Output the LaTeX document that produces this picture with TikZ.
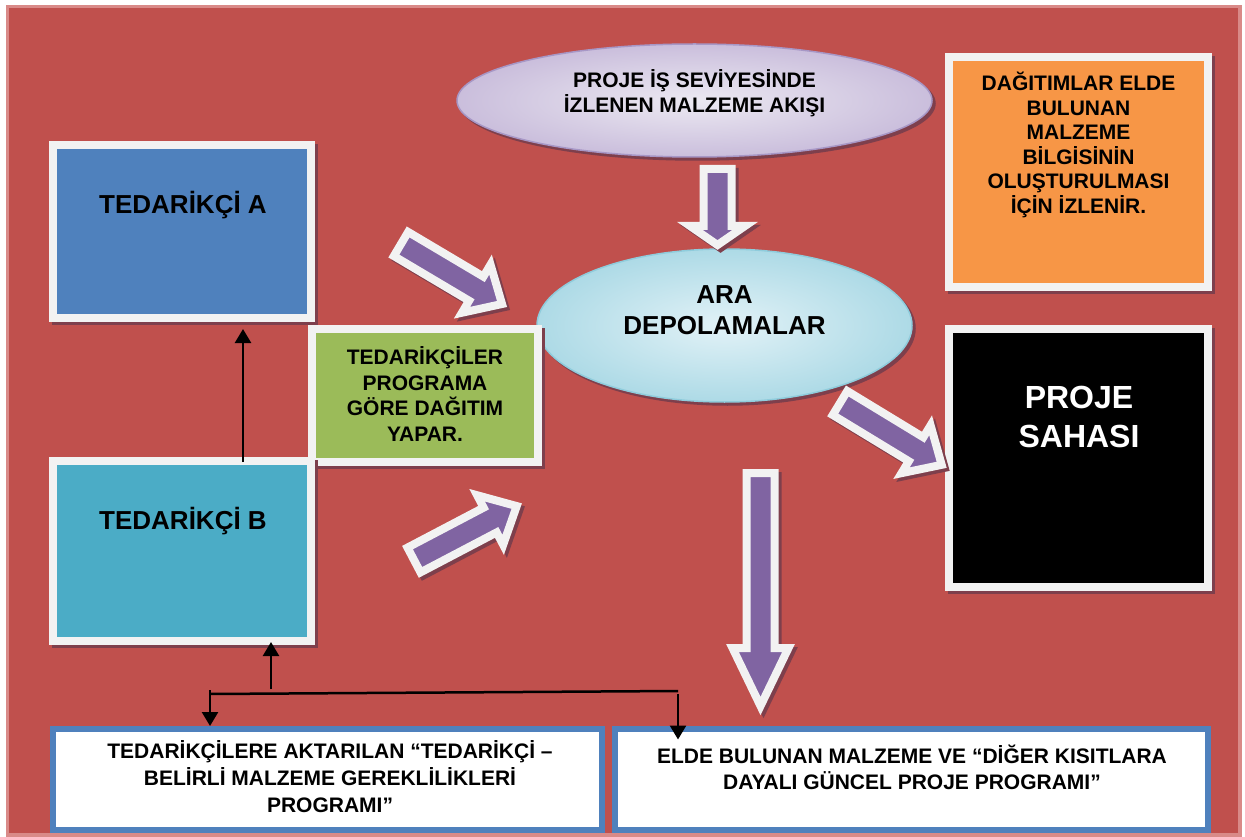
\documentclass[tikz,border=0pt]{standalone}
\usepackage{fontspec}
\setmainfont{Liberation Sans}
\usetikzlibrary{arrows.meta,shapes.geometric,positioning}

\definecolor{bgred}{HTML}{C0504D}
\definecolor{framepink}{HTML}{D98A88}
\definecolor{offwhite}{HTML}{F2F2F2}
\definecolor{shadowc}{HTML}{7E3F4C}
\definecolor{boxblue}{HTML}{4F81BD}
\definecolor{boxteal}{HTML}{4BACC6}
\definecolor{boxgreen}{HTML}{9BBB59}
\definecolor{boxorange}{HTML}{F79646}
\definecolor{arrpurple}{HTML}{8064A2}
\definecolor{lavlight}{HTML}{ECE9F2}
\definecolor{lavdark}{HTML}{CABEDC}
\definecolor{lavline}{HTML}{A797C6}
\definecolor{aqualight}{HTML}{E2F2F7}
\definecolor{aquadark}{HTML}{ADDAE6}
\definecolor{aqualine}{HTML}{8FCCDC}

\tikzset{
  shadowed/.style={preaction={draw=shadowc, fill=shadowc, line width=#1, transform canvas={xshift=3pt, yshift=-3pt}}},
  wbox/.style={draw=offwhite, line width=8pt, inner sep=0pt, shadowed=8pt},
  bluebox/.style={draw=boxblue, line width=6pt, fill=white, inner sep=0pt},
  oval/.style={ellipse, line width=1.5pt, inner sep=0pt, shadowed=1.5pt},
  txt/.style={font=\fontsize{21}{25.5}\selectfont\bfseries, align=center, inner sep=0pt},
  bigtxt/.style={font=\fontsize{26}{31}\selectfont\bfseries, align=center, inner sep=0pt},
  conn/.style={line width=2.5pt, -{Triangle[width=16pt,length=14pt]}},
  arrbody/.style={fill=arrpurple, draw=offwhite, line width=8pt, line join=miter},
  arrshadow/.style={fill=shadowc, draw=shadowc, line width=8pt, line join=miter}
}

% block arrow: tail x, tail y, angle, length, head length, head half width
\newcommand{\purplearrow}[6]{%
  \draw[arrshadow, shift={(#1+3,#2+3)}, rotate=#3] (0,-14) -- ({#4-#5},-14) -- ({#4-#5},-#6) -- (#4,0) -- ({#4-#5},#6) -- ({#4-#5},14) -- (0,14) -- cycle;
  \draw[arrbody, shift={(#1,#2)}, rotate=#3] (0,-14) -- ({#4-#5},-14) -- ({#4-#5},-#6) -- (#4,0) -- ({#4-#5},#6) -- ({#4-#5},14) -- (0,14) -- cycle;
}

\begin{document}
\begin{tikzpicture}[x=1pt, y=-1pt]
	\useasboundingbox (0,0) rectangle (1245,837);
	\fill[white] (0,0) rectangle (1245,837);
	\fill[framepink] (6,5) rectangle (1242,837);
	\fill[bgred] (9,8) rectangle (1238,833);

	% suppliers and storage
	\node[wbox, fill=boxblue, minimum width=258pt, minimum height=173pt] (tedA) at (182,231.5) {};
	\node[bigtxt] (tedAtext) at (183,205) {TEDARİKÇİ A};
	\node[oval, draw=lavline, shading=radial, inner color=lavlight, outer color=lavdark, minimum width=475pt, minimum height=113pt] (proje) at (694.5,100.5) {};
	\node[txt] (projetext) at (694.5,93) {PROJE İŞ SEVİYESİNDE\\İZLENEN MALZEME AKIŞI};
	\node[oval, draw=aqualine, shading=radial, inner color=aqualight, outer color=aquadark, minimum width=375pt, minimum height=153pt] (ara) at (724.5,325.5) {};
	\node[bigtxt] (aratext) at (724.5,310) {ARA\\DEPOLAMALAR};
	\node[wbox, fill=boxgreen, minimum width=226pt, minimum height=133pt] (dagitim) at (425,395.5) {};
	\node[txt] (dagitimtext) at (425,394) {TEDARİKÇİLER\\PROGRAMA\\GÖRE DAĞITIM\\YAPAR.};
	\node[wbox, fill=boxteal, minimum width=258pt, minimum height=180pt] (tedB) at (182,551) {};
	\node[bigtxt] (tedBtext) at (183,521) {TEDARİKÇİ B};

	% right column
	\node[wbox, fill=boxorange, minimum width=259pt, minimum height=230pt] (izlenir) at (1078.5,172) {};
	\node[txt, font=\fontsize{21}{24.6}\selectfont\bfseries] (izlenirtext) at (1078.5,145) {DAĞITIMLAR ELDE\\BULUNAN\\MALZEME\\BİLGİSİNİN\\OLUŞTURULMASI\\İÇİN İZLENİR.};
	\node[wbox, fill=black, minimum width=259pt, minimum height=258pt] (saha) at (1078.5,458) {};
	\node[txt, font=\fontsize{32}{39}\selectfont\bfseries, text=white] (sahatext) at (1079,417) {PROJE\\SAHASI};

	% programmes
	\node[bluebox, minimum width=548.5pt, minimum height=101pt] (programL) at (327.25,779.5) {};
	\node[txt, font=\fontsize{21}{27}\selectfont\bfseries] (programLtext) at (330,777) {TEDARİKÇİLERE AKTARILAN “TEDARİKÇİ –\\BELİRLİ MALZEME GEREKLİLİKLERİ\\PROGRAMI”};
	\node[bluebox, minimum width=592.5pt, minimum height=101.5pt] (programR) at (911.25,779.25) {};
	\node[txt, font=\fontsize{21}{26}\selectfont\bfseries] (programRtext) at (912,767) {ELDE BULUNAN MALZEME VE “DİĞER KISITLARA\\DAYALI GÜNCEL PROJE PROGRAMI”};

	% connectors
	\coordinate (busL) at (210,694);
	\coordinate (busR) at (678,691);
	\coordinate (busU) at (271,689);
	\draw[conn, shorten <=-5pt, shorten >=7pt] ([xshift=61pt]tedB.north) -- ([xshift=61pt]tedA.south);
	\draw[line width=2.5pt] (busL) -- (busR);
	\draw[conn] ([yshift=4pt]busL) -- (busL |- programL.north);
	\draw[conn, shorten >=-3pt] (busU) -- (busU |- tedB.south);
	\draw[conn, shorten >=-14pt] ([yshift=-3pt]busR) -- (busR |- programR.north);

	% flow arrows
	\purplearrow{717.5}{169}{-90}{76}{19}{27.5}
	\purplearrow{760.5}{473}{-90}{233}{58}{28}
	\purplearrow{401}{244}{-30.7}{117.5}{30}{28}
	\purplearrow{414}{560}{27.7}{116}{30}{28}
	\purplearrow{840}{403}{-31.3}{119}{30}{28}
\end{tikzpicture}
\end{document}
